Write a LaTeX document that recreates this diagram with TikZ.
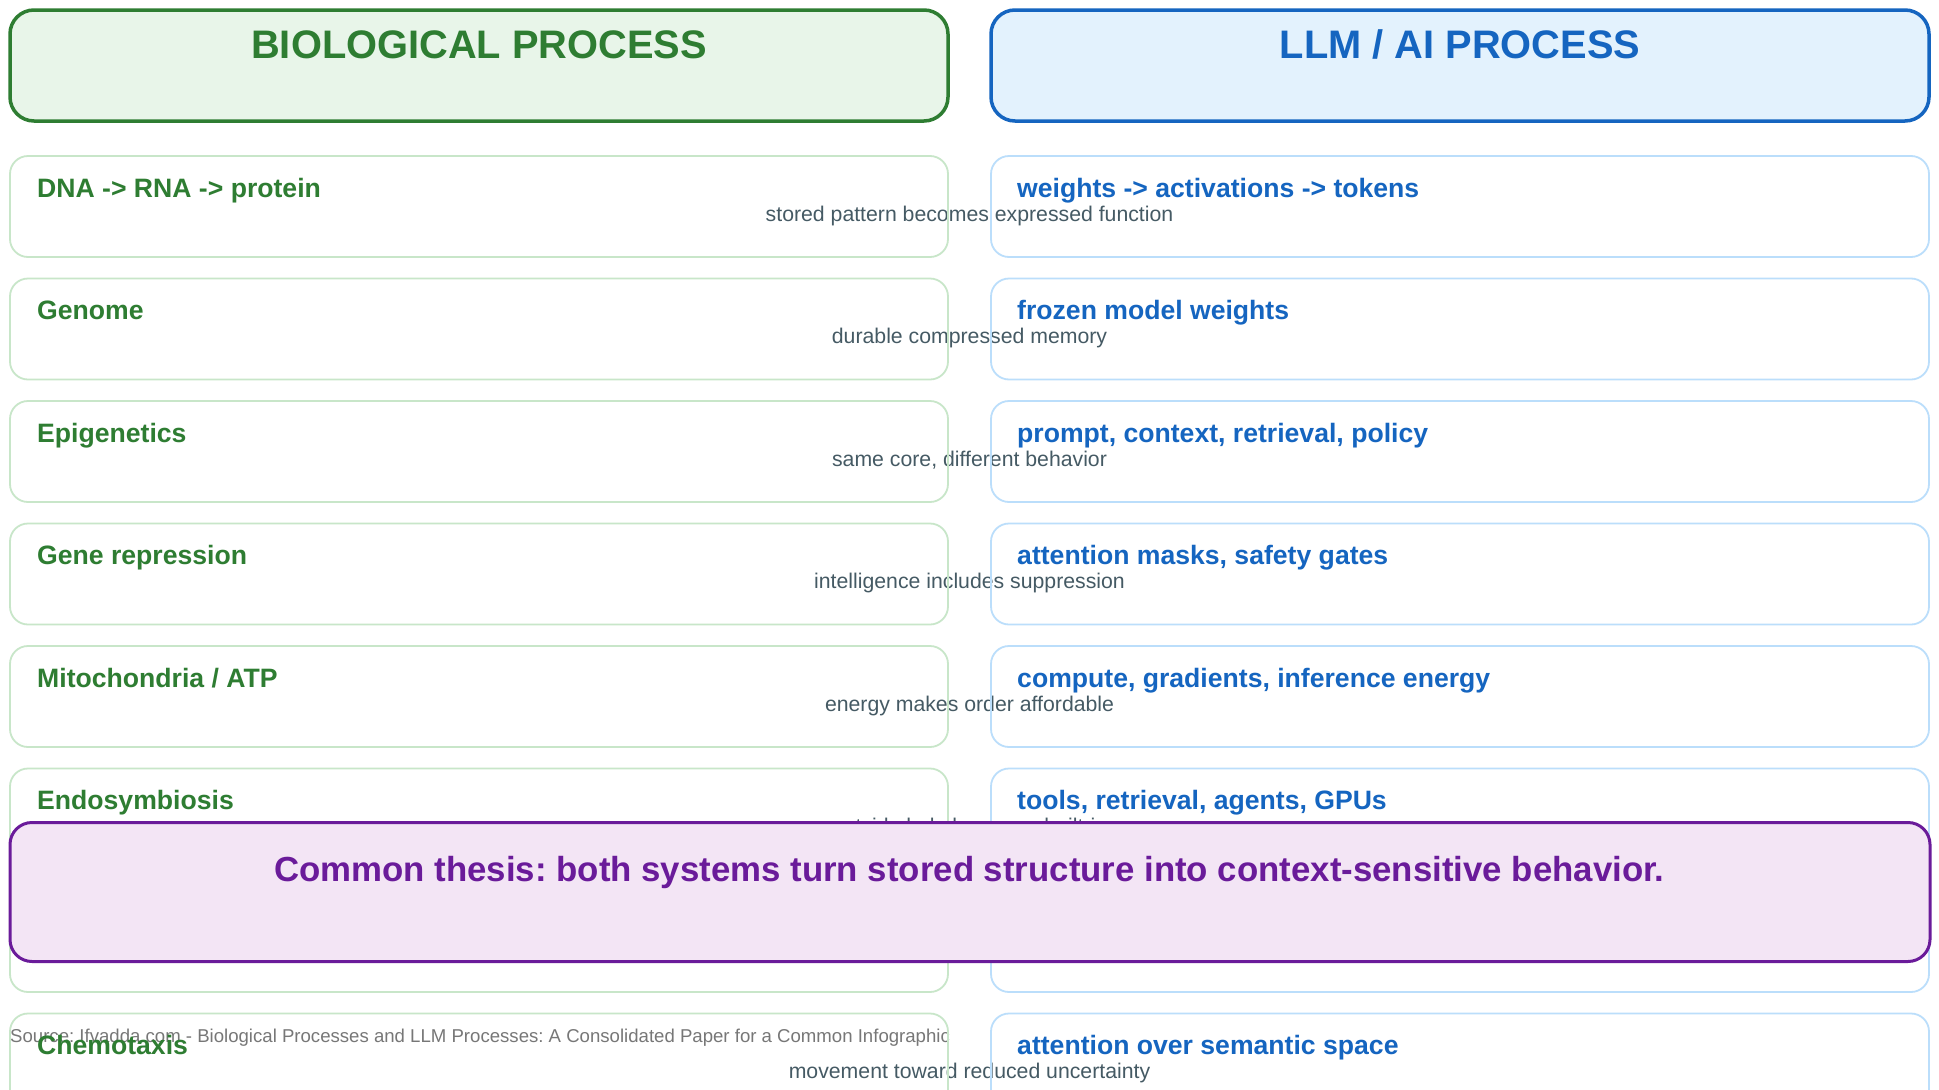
\documentclass[tikz,border=0pt]{standalone}
\usepackage{fontspec}
\setmainfont{Liberation Sans}
\usetikzlibrary{positioning}
\definecolor{bioGreen}{HTML}{2E7D32}
\definecolor{bioFill}{HTML}{E8F5E9}
\definecolor{bioLine}{HTML}{C8E6C9}
\definecolor{llmBlue}{HTML}{1565C0}
\definecolor{llmFill}{HTML}{E3F2FD}
\definecolor{llmLine}{HTML}{BBDEFB}
\definecolor{thesisPurple}{HTML}{6A1B9A}
\definecolor{thesisFill}{HTML}{F3E5F5}
\definecolor{noteGray}{HTML}{455A64}
\definecolor{srcGray}{HTML}{777777}
\frenchspacing
\tikzset{head box/.style={draw,rounded corners=24pt,line width=3.5pt,minimum width=938pt,minimum height=111pt,inner sep=0pt},
  row box/.style={draw,rounded corners=18pt,line width=1.8pt,minimum width=938pt,minimum height=101pt,inner sep=0pt},
  thesis box/.style={draw=thesisPurple,fill=thesisFill,rounded corners=22pt,line width=3pt,minimum width=1920pt,minimum height=139pt,inner sep=0pt},
  head text/.style={inner sep=0pt,font=\fontsize{39.8pt}{46pt}\selectfont\bfseries},
  item text/.style={inner sep=0pt,anchor=base west,font=\fontsize{26.6pt}{30pt}\selectfont\bfseries},
  note text/.style={inner sep=0pt,anchor=base,text=noteGray,font=\fontsize{21.25pt}{25pt}\selectfont},
  src text/.style={inner sep=0pt,anchor=base west,text=srcGray,font=\fontsize{18.6pt}{22pt}\selectfont},}

\begin{document}
\begin{tikzpicture}[x=1pt,y=-1pt]
  \clip (0,0) rectangle (1939,1090);
  \fill[white] (0,0) rectangle (1939,1090);

  % column headers
  \node[head box,fill=bioFill,draw=bioGreen] (bioHead) at (479,65.5) {};
  \node[head box,fill=llmFill,draw=llmBlue] (llmHead) at (1460,65.5) {};
  \node[head text,text=bioGreen,anchor=base] (bioTitle) at (479,58.5) {BIOLOGICAL PROCESS};
  \node[head text,text=llmBlue,anchor=base] (llmTitle) at (1460,58.5) {LLM / AI PROCESS};

  % source line
  \node[src text] (src) at (10,1042) {Source: Ifvadda.com - Biological Processes and LLM Processes: A Consolidated Paper for a Common Infographic};

  % one row per pair
  \foreach \bio/\llm/\note [count=\i] in {
      {DNA -> RNA -> protein}/{weights -> activations -> tokens}/{stored pattern becomes expressed function},
      {Genome}/{frozen model weights}/{durable compressed memory},
      {Epigenetics}/{prompt, context, retrieval, policy}/{same core, different behavior},
      {Gene repression}/{attention masks, safety gates}/{intelligence includes suppression},
      {Mitochondria / ATP}/{compute, gradients, inference energy}/{energy makes order affordable},
      {Endosymbiosis}/{tools, retrieval, agents, GPUs}/{outside help becomes built-in},
      {}/{}/{},
      {Chemotaxis}/{attention over semantic space}/{movement toward reduced uncertainty}}{
    \pgfmathsetmacro{\rowtop}{156+122.5*(\i-1)}
    \node[note text] (note\i) at (969.5,\rowtop+65) {\note};
    \node[row box,draw=bioLine] (bio\i) at (479,\rowtop+50.5) {};
    \node[row box,draw=llmLine] (llm\i) at (1460,\rowtop+50.5) {};
    \node[item text,text=bioGreen] (bioName\i) at (37,\rowtop+41) {\bio};
    \node[item text,text=llmBlue] (llmName\i) at (1017,\rowtop+41) {\llm};
  }

  % shared conclusion on top
  \node[thesis box] (thesis) at (970,892) {};
  \node[inner sep=0pt,anchor=base,text=thesisPurple,font=\fontsize{34.8pt}{40pt}\selectfont\bfseries] (thesisText) at (969.5,881) {Common thesis: both systems turn stored structure into context-sensitive behavior.};
\end{tikzpicture}
\end{document}
